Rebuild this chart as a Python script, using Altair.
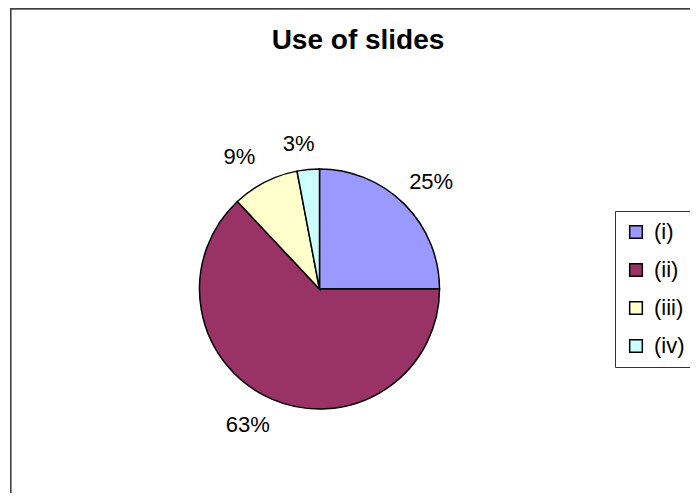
import altair as alt
import pandas as pd

categories = ["(i)", "(ii)", "(iii)", "(iv)"]
values = [25, 63, 9, 3]
labels = ["25%", "63%", "9%", "3%"]
colors = ["#9999FF", "#993366", "#FFFFCC", "#CCFFFF"]

df = pd.DataFrame({"cat": categories, "val": values, "lab": labels, "order": list(range(len(categories)))})

W, H = 680, 485
cx, cy = 309.5, 281

base = alt.Chart(df).encode(
    theta=alt.Theta("val:Q", stack=True),
    order=alt.Order("order:Q"),
    x=alt.value(cx),
    y=alt.value(cy),
)

pie = base.mark_arc(outerRadius=120, stroke="black", strokeWidth=1.5).encode(
    color=alt.Color(
        "cat:N",
        scale=alt.Scale(domain=categories, range=colors),
        sort=categories,
        legend=alt.Legend(
            title=None,
            orient="none",
            legendX=605,
            legendY=203,
            symbolType="square",
            symbolSize=160,
            symbolStrokeColor="black",
            symbolStrokeWidth=1.5,
            labelFontSize=22,
            labelFont="Liberation Sans",
            labelColor="black",
            labelOffset=7,
            rowPadding=16,
            padding=10,
            strokeColor="#333333",
            fillColor="white",
            labelLimit=200,
        ),
    ),
)

def label_layer(cond, dx, dy):
    return base.mark_text(
        radius=148, dx=dx, dy=dy, fontSize=22, font="Liberation Sans", color="black"
    ).encode(text=alt.condition(cond, "lab:N", alt.value("")))

text_a = label_layer("datum.order == 0", 7, -2)
text_b = label_layer("datum.order == 1 || datum.order == 2", -13, 0)
text_c = label_layer("datum.order == 3", -7, 2)

frame_left = alt.Chart(df).mark_rule(color="#404040", strokeWidth=1.2).encode(
    x=alt.value(0.6), y=alt.value(0), y2=alt.value(H)
)
frame_top = alt.Chart(df).mark_rule(color="#404040", strokeWidth=1.2).encode(
    x=alt.value(0), x2=alt.value(W), y=alt.value(0.6)
)

chart = (
    alt.layer(pie, text_a, text_b, text_c, frame_left, frame_top)
    .properties(
        width=W,
        height=H,
        autosize=alt.AutoSizeParams(type="none"),
        padding={"left": 2, "top": 0, "right": 0, "bottom": 0},
        title=alt.TitleParams(
            "Use of slides",
            anchor="middle",
            fontSize=28,
            font="Liberation Sans",
            fontWeight="bold",
            color="black",
            offset=-48,
            dx=8,
            frame="group",
        ),
    )
    .configure_view(stroke=None)
    .configure(background="white")
)

chart.save("out.html", embed_options={"renderer": "svg", "actions": False})
